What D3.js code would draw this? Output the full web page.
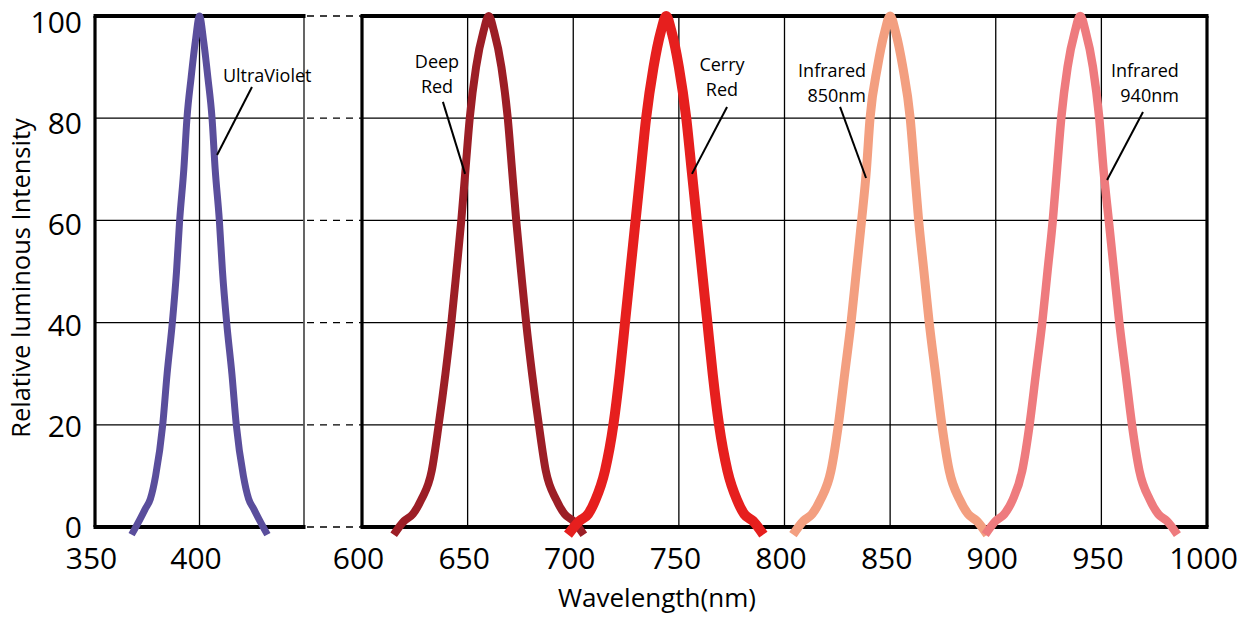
<!DOCTYPE html>
<html>
<head>
<meta charset="utf-8">
<script src="https://cdn.jsdelivr.net/npm/d3@7"></script>
<style>
    body { margin: 0; background: #fff; }
    text { font-family: "Open Sans", "Noto Sans", sans-serif; fill: #000; }
</style>
</head>
<body>
<script>
"use strict";

///////////////////
// data
///////////////////

// [wavelength nm, relative intensity %]
var ultraViolet = [
    [367.5, -1.5], [371.5, 1.5], [374, 3.5], [376.5, 5.5], [379, 10], [382.4, 20],
    [384.5, 30], [387, 40], [389, 50], [390.5, 60], [392.5, 70], [394, 80],
    [396, 88], [398, 95], [400, 100], [402, 95], [404, 88], [406, 80],
    [407.5, 70], [409.5, 60], [411, 50], [413, 40], [415.5, 30], [417.6, 20],
    [421, 10], [423.5, 5.5], [426, 3.5], [428.5, 1.5], [432.5, -1.5]
];
var deepRed = [
    [615, -1.5], [620, 1.2], [624, 2.5], [628, 5.3], [633, 11], [636.3, 20],
    [639.5, 30], [642.3, 40], [644.7, 50], [647, 60], [649, 70], [651, 80],
    [654, 90], [657.5, 97], [660, 100], [662.5, 97], [666, 90], [669, 80],
    [671, 70], [673, 60], [675.3, 50], [677.7, 40], [680.5, 30], [683.7, 20],
    [687, 11], [692, 5.3], [696, 2.5], [700, 1.2], [705, -1.5]
];
var cherryRed = [
    [697.5, -1.5], [703, 1.2], [707, 2.5], [710.5, 5.3], [715, 11], [719, 20],
    [722, 30], [724.5, 40], [727, 50], [729.5, 60], [732, 70], [734.5, 80],
    [738, 90], [741.5, 97], [744, 100], [746.5, 97], [750, 90], [753.5, 80],
    [756, 70], [758.5, 60], [761, 50], [763.5, 40], [766, 30], [769, 20],
    [773, 11], [777.5, 5.3], [781, 2.5], [785, 1.2], [790, -1.5]
];
var infrared850 = [
    [804, -1.5], [809, 1.2], [813, 2.5], [817, 5.3], [822, 11], [825.5, 20],
    [828.5, 30], [831.5, 40], [834, 50], [836.5, 60], [838.8, 70], [840.5, 80],
    [844, 90], [847.5, 97], [850, 100], [852.5, 97], [856, 90], [859.5, 80],
    [861.5, 70], [863.5, 60], [866, 50], [868.5, 40], [871.5, 30], [874.5, 20],
    [878, 11], [883, 5.3], [887, 2.5], [891, 1.2], [896, -1.5]
];
var infrared940 = [
    [895, -1.5], [900, 1.2], [904, 2.5], [908, 5.3], [912.5, 11], [916, 20],
    [919, 30], [922, 40], [924.5, 50], [927, 60], [929, 70], [931, 80],
    [934, 90], [937.5, 97], [940, 100], [942.5, 97], [946, 90], [949, 80],
    [951, 70], [953.5, 60], [956, 50], [958.5, 40], [961.5, 30], [964.5, 20],
    [968, 11], [973, 5.3], [977, 2.5], [981, 1.2], [986, -1.5]
];

var yTicks = [0, 20, 40, 60, 80, 100];
var leftTicks = [350, 400];
var rightTicks = [600, 650, 700, 750, 800, 850, 900, 950, 1000];

var yTitle = "Relative luminous Intensity";
var xTitle = "Wavelength(nm)";

// label text, [wavelength, intensity] of the first text line, pointer from/to
var notes = [
    { lines: ["UltraViolet"], panel: "left", at: [411.2, 87.1], anchor: "start",
      from: [425.1, 86.1], to: [408.4, 72.8] },
    { lines: ["Deep", "Red"], panel: "right", at: [635.5, 89.8], anchor: "middle",
      from: [638.3, 83.2], to: [648.8, 69.1] },
    { lines: ["Cerry", "Red"], panel: "right", at: [770.4, 89.2], anchor: "middle",
      from: [772.8, 82.2], to: [756.2, 69.1] },
    { lines: ["Infrared", "850nm"], panel: "right", at: [838.6, 88.1], anchor: "end",
      from: [826.3, 82.2], to: [838.6, 68.3] },
    { lines: ["Infrared", "940nm"], panel: "right", at: [986.7, 88.1], anchor: "end",
      from: [969.7, 81.2], to: [952.7, 67.9] }
];

(function() {

    var W = 1245, H = 617;

    var y = d3.scaleLinear().domain([0, 100]).range([527, 16]);
    var xLeft = d3.scaleLinear().domain([350, 450]).range([95, 304]);
    var xRight = d3.scaleLinear().domain([600, 1000]).range([362, 1207]);

    var series = [
        { data: ultraViolet, x: xLeft, color: "#5a4e9c", width: 7 },
        { data: deepRed, x: xRight, color: "#9c1e26", width: 8 },
        { data: cherryRed, x: xRight, color: "#e61f1e", width: 10 },
        { data: infrared850, x: xRight, color: "#f39f80", width: 9 },
        { data: infrared940, x: xRight, color: "#ee7b7e", width: 8.5 }
    ];

    var svg = d3.select("body")
        .append("svg")
        .attr("width", W)
        .attr("height", H);

    // grid lines
    var grid = svg.append("g").attr("stroke", "#000").attr("stroke-width", 1.3);
    [xLeft, xRight].forEach(function(x) {
        grid.selectAll(null)
            .data(yTicks.slice(1, -1))
            .enter()
            .append("line")
            .attr("x1", x.range()[0]).attr("x2", x.range()[1])
            .attr("y1", y).attr("y2", y);
    });
    grid.selectAll(null)
        .data([400])
        .enter()
        .append("line")
        .attr("x1", xLeft).attr("x2", xLeft)
        .attr("y1", y(0)).attr("y2", y(100));
    grid.selectAll(null)
        .data(rightTicks.slice(1, -1))
        .enter()
        .append("line")
        .attr("x1", xRight).attr("x2", xRight)
        .attr("y1", y(0)).attr("y2", y(100));

    // dashed links between the two panels
    svg.append("g")
        .selectAll("line")
        .data(yTicks)
        .enter()
        .append("line")
        .attr("x1", xLeft.range()[1] + 3).attr("x2", xRight.range()[0])
        .attr("y1", y).attr("y2", y)
        .attr("stroke", "#000")
        .attr("stroke-width", 1.3)
        .attr("stroke-dasharray", "7,6");

    // frames
    var frame = svg.append("g").attr("fill", "none").attr("stroke", "#000");
    frame.append("line") // left panel right edge, thin grey
        .attr("x1", xLeft.range()[1]).attr("x2", xLeft.range()[1])
        .attr("y1", y(0)).attr("y2", y(100))
        .attr("stroke", "#555").attr("stroke-width", 1.8);
    [xLeft, xRight].forEach(function(x) {
        var x0 = x.range()[0], x1 = x.range()[1];
        frame.append("line")
            .attr("x1", x0 - 1.5).attr("x2", x1 + 1.5)
            .attr("y1", y(100)).attr("y2", y(100))
            .attr("stroke-width", 4);
        frame.append("line")
            .attr("x1", x0 - 1.5).attr("x2", x1 + 1.5)
            .attr("y1", y(0)).attr("y2", y(0))
            .attr("stroke-width", 4);
        frame.append("line")
            .attr("x1", x0).attr("x2", x0)
            .attr("y1", y(0)).attr("y2", y(100))
            .attr("stroke-width", 3.2);
    });
    frame.append("line")
        .attr("x1", xRight.range()[1]).attr("x2", xRight.range()[1])
        .attr("y1", y(0)).attr("y2", y(100))
        .attr("stroke-width", 3.2);

    // spectra
    svg.append("g")
        .selectAll("path")
        .data(series)
        .enter()
        .append("path")
        .attr("fill", "none")
        .attr("stroke", function(d) { return d.color; })
        .attr("stroke-width", function(d) { return d.width; })
        .attr("stroke-linejoin", "round")
        .attr("d", function(s) {
            return d3.line()
                .x(function(p) { return s.x(p[0]); })
                .y(function(p) { return y(p[1]); })
                .curve(d3.curveMonotoneX)(s.data);
        });

    // tick labels (axes without lines)
    var yAxis = svg.append("g")
        .attr("transform", "translate(82,0)")
        .call(d3.axisLeft(y).tickValues(yTicks).tickSize(0).tickPadding(0));
    yAxis.select(".domain").remove();
    yAxis.selectAll("text")
        // labels sit a bit lower towards the top, as in the original
        .attr("dy", function(d) { return (10 + d * 0.06) + "px"; })
        .style("font-size", "30px");

    [[xLeft, leftTicks], [xRight, rightTicks]].forEach(function(a) {
        var g = svg.append("g")
            .attr("transform", "translate(-4,0)")
            .call(d3.axisBottom(a[0]).tickValues(a[1]).tickFormat(d3.format("d"))
                .tickSize(0).tickPadding(0));
        g.select(".domain").remove();
        g.selectAll("text")
            .attr("y", 569)
            .attr("dy", 0)
            .style("font-size", "30px");
    });

    // axis titles
    svg.append("text")
        .attr("x", 657)
        .attr("y", 607)
        .attr("text-anchor", "middle")
        .style("font-size", "26px")
        .text(xTitle);
    svg.append("text")
        .attr("transform", "translate(30,278) rotate(-90)")
        .attr("text-anchor", "middle")
        .style("font-size", "25.5px")
        .text(yTitle);

    // annotations
    var ann = svg.append("g");
    notes.forEach(function(n) {
        var x = n.panel === "left" ? xLeft : xRight;
        ann.append("line")
            .attr("x1", x(n.from[0])).attr("y1", y(n.from[1]))
            .attr("x2", x(n.to[0])).attr("y2", y(n.to[1]))
            .attr("stroke", "#000")
            .attr("stroke-width", 2);
        var t = ann.append("text")
            .attr("x", x(n.at[0]))
            .attr("y", y(n.at[1]))
            .attr("text-anchor", n.anchor)
            .style("font-size", "18px");
        t.selectAll("tspan")
            .data(n.lines)
            .enter()
            .append("tspan")
            .attr("x", x(n.at[0]))
            .attr("dy", function(d, i) { return i ? 25 : 0; })
            .text(function(d) { return d; });
    });

})();
</script>
</body>
</html>
